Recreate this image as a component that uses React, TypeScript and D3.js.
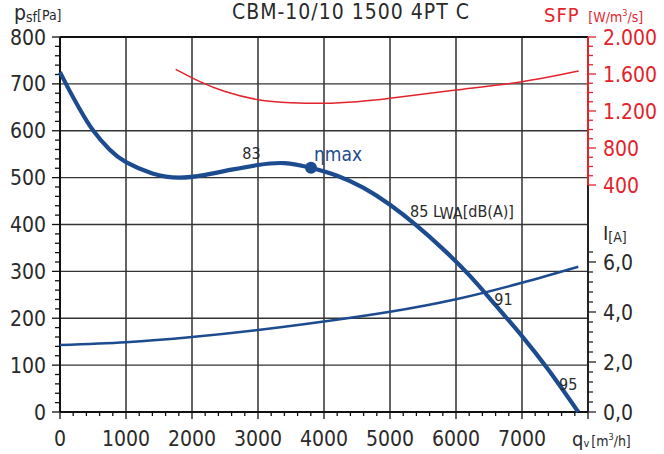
import React from "react";
import * as d3 from "d3";

// Airflow (m³/h) vs static pressure (Pa)
const pressureQ = [0, 150, 300, 500, 750, 1000, 1400, 1800, 2200, 2600, 3000, 3400, 3800, 4200, 4600, 5000, 5400, 5800, 6200, 6600, 7000, 7400, 7853];
const pressurePa = [725, 684, 646, 601, 560, 533, 509, 500, 506, 517, 527, 531, 521, 504, 478, 442, 398, 348, 292, 228, 162, 90, 0];

// Motor current (A)
const currentQ = [0, 1000, 2000, 3000, 4000, 5000, 6000, 7000, 7853];
const currentA = [2.68, 2.79, 3.0, 3.28, 3.62, 4.01, 4.51, 5.17, 5.81];

// Specific fan power (W/m³/s)
const sfpQ = [1753, 2121, 2500, 3000, 3500, 4000, 4500, 5000, 6000, 7000, 7859];
const sfpVal = [1651, 1517, 1410, 1322, 1290, 1283, 1300, 1337, 1427, 1517, 1632];

const etaMax = { q: 3803, p: 521 };

const xTicks = [0, 1000, 2000, 3000, 4000, 5000, 6000, 7000];
const pTicks = [0, 100, 200, 300, 400, 500, 600, 700, 800];
const sfpTicks = [400, 800, 1200, 1600, 2000];
const iTicks = [0, 2, 4, 6];

const noiseLabels = [
  { q: 2900, p: 540, text: "83" },
  { q: 6720, p: 228, text: "91" },
  { q: 7700, p: 46, text: "95" },
];

const FONT = "'DejaVu Sans Condensed', 'Liberation Sans Narrow', 'Roboto', sans-serif";
const BLUE = "#1d4b8f";
const RED = "#e3232c";
const TXT = "#2a2a2a";

export default function App() {
  const x = d3.scaleLinear().domain([0, 8000]).range([60, 588]);
  const yP = d3.scaleLinear().domain([0, 800]).range([412, 37]);
  const yS = d3.scaleLinear().domain([400, 2000]).range([185, 37]);
  const yI = d3.scaleLinear().domain([0, 6]).range([412, 262]);

  const pLine = d3
    .line<number>()
    .x((_, i) => x(pressureQ[i]))
    .y((d) => yP(d))
    .curve(d3.curveNatural);
  const iLine = d3
    .line<number>()
    .x((_, i) => x(currentQ[i]))
    .y((d) => yI(d))
    .curve(d3.curveNatural);
  const sLine = d3
    .line<number>()
    .x((_, i) => x(sfpQ[i]))
    .y((d) => yS(d))
    .curve(d3.curveNatural);

  const xMinor = d3.range(0, 8001, 200);
  const pMinor = d3.range(0, 801, 20);
  const sMinor = d3.range(400, 2001, 100);
  const iMinor = d3.range(0, 33, 2).map((k) => k / 5); // every 0.4 A

  const xR = x(8000);

  return (
    <svg
      width={664}
      height={454}
      style={{ position: "absolute", left: 0, top: 0, background: "#fff" }}
      fontFamily={FONT}
    >
      {/* vertical grid */}
      {xTicks.slice(1).map((t) => (
        <line key={"vx" + t} x1={x(t)} x2={x(t)} y1={yP(800)} y2={yP(0)} stroke="#111" strokeWidth={1.3} />
      ))}
      {/* horizontal grid */}
      {pTicks.slice(1, -1).map((t) => (
        <line key={"hy" + t} x1={x(0)} x2={xR} y1={yP(t)} y2={yP(t)} stroke="#333" strokeWidth={1.3} />
      ))}
      {/* frame top */}
      <line x1={x(0)} x2={xR} y1={yP(800)} y2={yP(800)} stroke="#111" strokeWidth={2.2} />

      {/* left axis */}
      <line x1={x(0)} x2={x(0)} y1={yP(800)} y2={yP(0)} stroke="#111" strokeWidth={2} />
      {pMinor.map((t) => (
        <line key={"pm" + t} x1={x(0) - (t % 100 === 0 ? 8 : 5)} x2={x(0)} y1={yP(t)} y2={yP(t)} stroke="#111" strokeWidth={1.3} />
      ))}
      {pTicks.map((t) => (
        <text key={"pl" + t} x={46} y={yP(t)} dy="0.36em" textAnchor="end" fontSize={21} fill={TXT}>
          {t}
        </text>
      ))}
      <text x={14} y={20} fill={TXT}>
        <tspan fontSize={21}>p</tspan>
        <tspan fontSize={14} dy={2}>sf</tspan>
        <tspan fontSize={14} dy={-2}>[Pa]</tspan>
      </text>

      {/* bottom axis */}
      <line x1={x(0)} x2={xR} y1={yP(0)} y2={yP(0)} stroke="#111" strokeWidth={2} />
      {xMinor.map((t) => (
        <line key={"xm" + t} x1={x(t)} x2={x(t)} y1={yP(0)} y2={yP(0) + (t % 1000 === 0 ? 7 : 4)} stroke="#111" strokeWidth={1.3} />
      ))}
      {xTicks.map((t) => (
        <text key={"xl" + t} x={x(t)} y={446} textAnchor="middle" fontSize={21} fill={TXT}>
          {t}
        </text>
      ))}
      <text x={572} y={446} fill={TXT}>
        <tspan fontSize={20}>q</tspan>
        <tspan fontSize={11} dy={1}>v</tspan>
        <tspan fontSize={14} dy={-1} dx={2}>[m</tspan>
        <tspan fontSize={9} dy={-6}>3</tspan>
        <tspan fontSize={14} dy={6}>/h]</tspan>
      </text>

      {/* right axis: current */}
      <line x1={xR} x2={xR} y1={yS(400)} y2={yI(0)} stroke="#222" strokeWidth={2} />
      {iMinor.map((t, k) => (
        <line key={"im" + k} x1={xR} x2={xR + (k % 5 === 0 ? 8 : 5)} y1={yI(t)} y2={yI(t)} stroke="#222" strokeWidth={1.3} />
      ))}
      {iTicks.map((t) => (
        <text key={"il" + t} x={603} y={yI(t)} dy="0.36em" fontSize={21} fill={TXT}>
          {t.toFixed(1).replace(".", ",")}
        </text>
      ))}
      <text x={603} y={240} fill={TXT}>
        <tspan fontSize={20}>I</tspan>
        <tspan fontSize={14} dy={2}>[A]</tspan>
      </text>

      {/* right axis: SFP */}
      <line x1={xR} x2={xR} y1={yS(2000)} y2={yS(400)} stroke={RED} strokeWidth={2} />
      {sMinor.map((t) => (
        <line key={"sm" + t} x1={xR} x2={xR + (t % 400 === 0 ? 8 : 5)} y1={yS(t)} y2={yS(t)} stroke={RED} strokeWidth={1.3} />
      ))}
      {sfpTicks.map((t) => (
        <text key={"sl" + t} x={603} y={yS(t)} dy="0.36em" fontSize={21} fill={RED}>
          {t >= 1000 ? d3.format(".3f")(t / 1000) : String(t)}
        </text>
      ))}
      <text x={544} y={22} fill={RED}>
        <tspan fontSize={20} letterSpacing={1}>SFP </tspan>
        <tspan fontSize={14} dx={2}>[W/m</tspan>
        <tspan fontSize={9} dy={-6}>3</tspan>
        <tspan fontSize={14} dy={6}>/s]</tspan>
      </text>

      {/* title */}
      <text x={351} y={19} textAnchor="middle" fontSize={21} letterSpacing={1} fill={TXT}>
        CBM-10/10 1500 4PT C
      </text>

      {/* curves */}
      <path d={sLine(sfpVal) ?? ""} fill="none" stroke={RED} strokeWidth={1.5} />
      <path d={iLine(currentA) ?? ""} fill="none" stroke={BLUE} strokeWidth={2.5} />
      <path d={pLine(pressurePa) ?? ""} fill="none" stroke={BLUE} strokeWidth={4.2} />

      {/* max efficiency point */}
      <circle cx={x(etaMax.q)} cy={yP(etaMax.p)} r={6} fill={BLUE} />
      <text x={x(etaMax.q) + 3} y={yP(etaMax.p) - 7} fontSize={19} fill={BLUE}>
        ηmax
      </text>

      {/* sound power labels */}
      {noiseLabels.map((l) => (
        <text key={l.text} x={x(l.q)} y={yP(l.p)} fontSize={16} fill={TXT} textAnchor="middle">
          {l.text}
        </text>
      ))}
      <text x={410} y={217} fill={TXT} fontSize={16}>
        85 L
        <tspan dy={2}>WA</tspan>
        <tspan dy={-2}>[dB(A)]</tspan>
      </text>
    </svg>
  );
}
